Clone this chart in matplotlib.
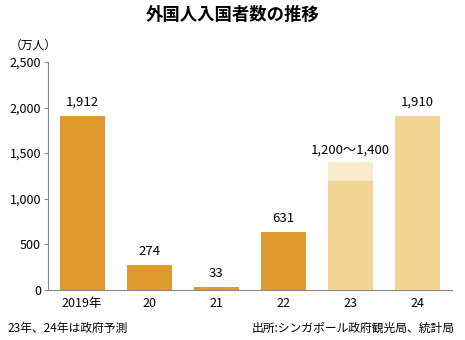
import matplotlib
matplotlib.use("Agg")
import matplotlib.pyplot as plt

plt.rcParams['font.family'] = ['Noto Sans CJK JP', 'DejaVu Sans']

# data
years = ["2019年", "20", "21", "22", "23", "24"]
visitors = [1912, 274, 33, 631, 1200, 1910]
range_top = [None, None, None, None, 1400, None]
value_labels = ["1,912", "274", "33", "631", "1,200～1,400", "1,910"]
is_forecast = [False, False, False, False, True, True]

dark = "#DF9A2E"
light = "#F2D595"
lighter = "#F8EACB"
axis_gray = "#888888"

fig = plt.figure(figsize=(4.65, 3.4), dpi=100)
ax = fig.add_axes([0.103, 0.147, 0.869, 0.671])

x = list(range(len(years)))
colors = [light if f else dark for f in is_forecast]
ax.bar(x, visitors, width=0.67, color=colors, zorder=2)

# range part of the forecast bar
for i, top in enumerate(range_top):
    if top is not None:
        ax.bar(i, top - visitors[i], bottom=visitors[i], width=0.67, color=lighter, zorder=2)

for i, lab in enumerate(value_labels):
    top = range_top[i] if range_top[i] is not None else visitors[i]
    off = 60 if range_top[i] is not None else 80
    ax.text(i, top + off, lab, ha="center", va="bottom", fontsize=9.5)

ax.set_xlim(-0.51, 5.51)
ax.set_ylim(0, 2500)
ax.set_yticks([0, 500, 1000, 1500, 2000, 2500])
ax.set_yticklabels(["0", "500", "1,000", "1,500", "2,000", "2,500"], fontsize=9)
ax.set_xticks(x)
ax.set_xticklabels(years, fontsize=9)
ax.tick_params(axis="x", length=0, pad=5)
ax.tick_params(axis="y", length=3, width=0.8, color=axis_gray, pad=2)

for s in ["top", "right"]:
    ax.spines[s].set_visible(False)
for s in ["left", "bottom"]:
    ax.spines[s].set_color(axis_gray)
    ax.spines[s].set_linewidth(0.8)

fig.text(0.5, 0.955, "外国人入国者数の推移", ha="center", va="center",
         fontsize=12.5, fontweight="bold")
fig.text(0.022, 0.868, "（万人）", ha="left", va="center", fontsize=8.5)
fig.text(0.017, 0.035, "23年、24年は政府予測", ha="left", va="center", fontsize=8.5)
fig.text(0.978, 0.035, "出所:シンガポール政府観光局、統計局", ha="right", va="center", fontsize=8.5)

fig.savefig("out.png", dpi=100)
